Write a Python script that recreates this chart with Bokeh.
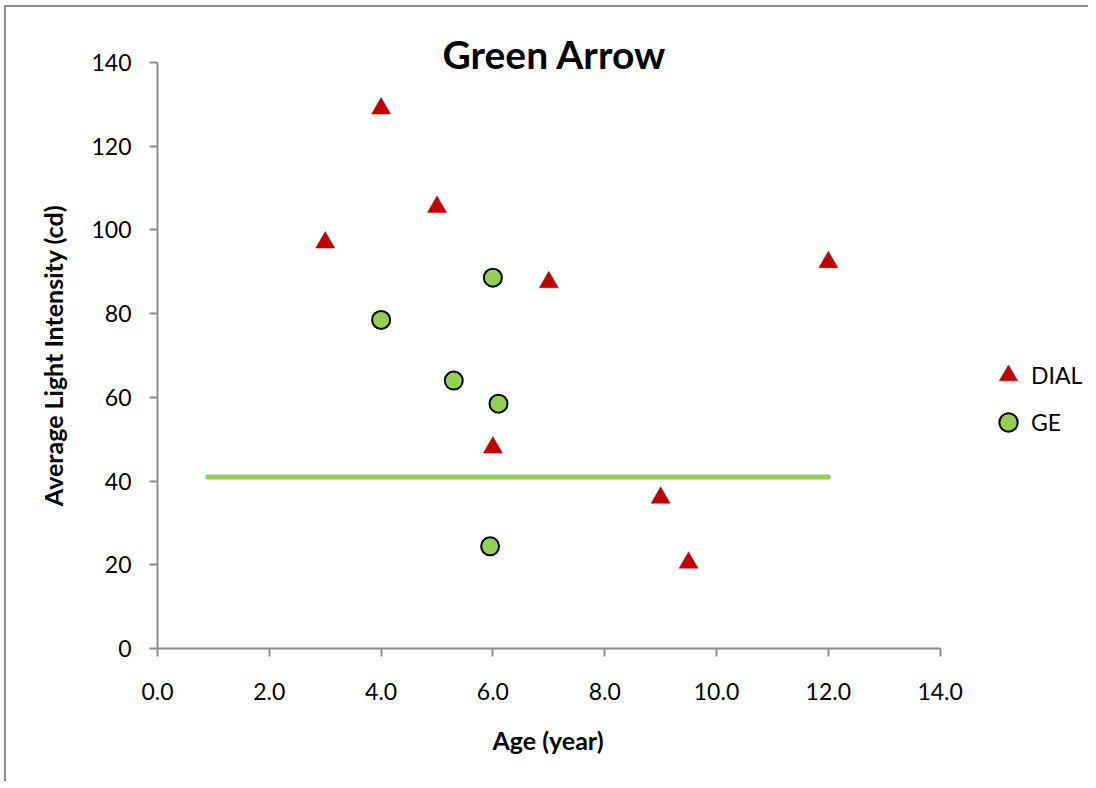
from bokeh.plotting import figure
from bokeh.layouts import column
from bokeh.models import Range1d, Title, NumeralTickFormatter, FixedTicker
from bokeh.embed import file_html
from bokeh.resources import INLINE

# ---- data ----
dial_age = [3, 4, 5, 6, 7, 9, 9.5, 12]
dial_intensity = [97, 129, 105.5, 48, 87.5, 36, 20.5, 92.3]
ge_age = [4, 5.3, 6, 6.1, 5.95]
ge_intensity = [78.5, 64, 88.6, 58.5, 24.4]
line_age = [0.9, 12]
line_intensity = [41, 41]
x_ticks = [0, 2, 4, 6, 8, 10, 12, 14]
y_ticks = [0, 20, 40, 60, 80, 100, 120, 140]

FONT = "Lato"
AXIS_GRAY = "#8a8a8a"

p = figure(width=1084, height=776, output_backend="svg", toolbar_location=None,
           x_range=Range1d(0, 16.69), y_range=Range1d(0, 140),
           min_border_left=151, min_border_right=0, min_border_top=55, min_border_bottom=135)
p.outline_line_color = None
p.xgrid.visible = False
p.ygrid.visible = False

p.line(line_age, line_intensity, line_color="#92D050", line_width=5, line_cap="round")
p.scatter(dial_age, dial_intensity, marker="triangle", size=19, fill_color="#C00000",
          line_color="#C00000", line_width=0.5, legend_label="DIAL")
p.scatter(ge_age, ge_intensity, marker="circle", size=18, fill_color="#92D050",
          line_color="black", line_width=2, legend_label="GE")

for ax in (p.xaxis[0], p.yaxis[0]):
    ax.axis_line_color = AXIS_GRAY
    ax.axis_line_width = 2
    ax.major_tick_line_color = AXIS_GRAY
    ax.major_tick_line_width = 2
    ax.major_tick_out = 8
    ax.major_tick_in = 0
    ax.minor_tick_line_color = None
    ax.major_label_text_font = FONT
    ax.major_label_text_font_size = "23px"
    ax.major_label_text_color = "black"

p.xaxis.bounds = (0, 14)
p.xaxis.ticker = FixedTicker(ticks=x_ticks)
p.yaxis.ticker = FixedTicker(ticks=y_ticks)
p.xaxis.formatter = NumeralTickFormatter(format="0.0")
p.xaxis.major_label_standoff = 26
p.yaxis.major_label_standoff = 18

p.yaxis.axis_label = "Average Light Intensity (cd)"
p.yaxis.axis_label_text_font = FONT
p.yaxis.axis_label_text_font_size = "25px"
p.yaxis.axis_label_text_font_style = "bold"
p.yaxis.axis_label_text_color = "black"
p.yaxis.axis_label_standoff = 20

xlabel = Title(text="Age (year)", align="left", offset=335, standoff=44,
               vertical_align="top", text_font=FONT, text_font_size="25px",
               text_font_style="bold", text_color="black")
p.add_layout(xlabel, "below")

title = Title(text="Green Arrow", align="left", offset=285, standoff=-29,
              vertical_align="bottom", text_font=FONT, text_font_size="39px",
              text_font_style="bold", text_color="black")
p.add_layout(title, "above")

lg = p.legend[0]
lg.location = (828, 203)
lg.border_line_color = None
lg.background_fill_alpha = 0
lg.padding = 0
lg.margin = 0
lg.glyph_width = 46
lg.glyph_height = 46
lg.label_standoff = 0
lg.spacing = 1
lg.label_text_font = FONT
lg.label_text_font_size = "23px"
lg.label_text_color = "black"

layout = column(p, styles={"margin-left": "6px", "margin-top": "7px",
                           "box-shadow": "-2px -2px 0px 0px #8c8c8c"})

open("out.html", "w").write(file_html(layout, INLINE))
